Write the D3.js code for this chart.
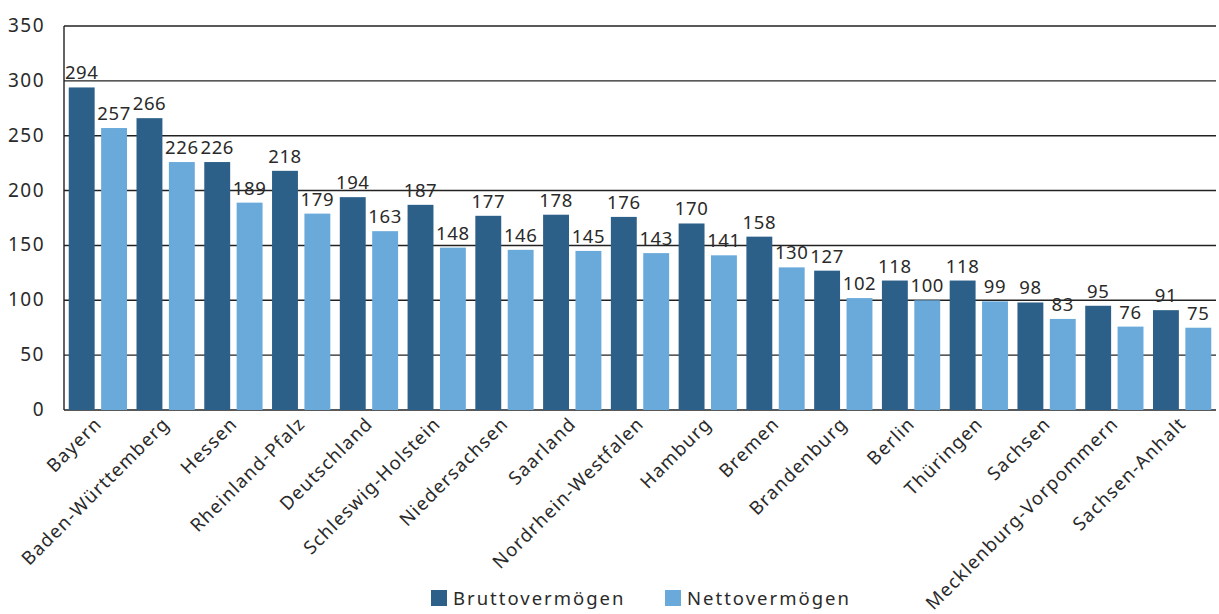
<!DOCTYPE html>
<html>
<head>
<meta charset="utf-8">
<script src="https://cdn.jsdelivr.net/npm/d3@7"></script>
<style>
  body { margin: 0; background: #fff; }
  text { font-family: "Noto Sans", "Open Sans", sans-serif; fill: #2a2a2a; }
</style>
</head>
<body>
<div id="chart"></div>
<script>
const categories = ["Bayern", "Baden-Württemberg", "Hessen", "Rheinland-Pfalz", "Deutschland",
  "Schleswig-Holstein", "Niedersachsen", "Saarland", "Nordrhein-Westfalen", "Hamburg", "Bremen",
  "Brandenburg", "Berlin", "Thüringen", "Sachsen", "Mecklenburg-Vorpommern", "Sachsen-Anhalt"];
const brutto = [294, 266, 226, 218, 194, 187, 177, 178, 176, 170, 158, 127, 118, 118, 98, 95, 91];
const netto  = [257, 226, 189, 179, 163, 148, 146, 145, 143, 141, 130, 102, 100, 99, 83, 76, 75];
const seriesNames = ["Bruttovermögen", "Nettovermögen"];
const yTicks = [0, 50, 100, 150, 200, 250, 300, 350];

const colors = ["#2d6089", "#6aaadb"];
const width = 1219, height = 614;
const margins = {l: 64, r: 3, t: 26, b: 204};

const svg = d3.select("#chart").append("svg")
  .attr("width", width).attr("height", height);

const x0 = d3.scaleBand()
  .domain(categories)
  .range([margins.l, width - margins.r])
  .paddingInner(0.14).paddingOuter(0.07);

const x1 = d3.scaleBand()
  .domain(seriesNames)
  .range([0, x0.bandwidth()])
  .paddingInner(0.2);

const y = d3.scaleLinear()
  .domain([0, 350])
  .range([height - margins.b, margins.t]);

// gridlines
svg.append("g").selectAll("line")
  .data(yTicks)
  .join("line")
  .attr("x1", margins.l).attr("x2", width - margins.r)
  .attr("y1", d => y(d)).attr("y2", d => y(d))
  .attr("stroke", "#222").attr("stroke-width", 1.4);

// y tick labels
svg.append("g").selectAll("text")
  .data(yTicks)
  .join("text")
  .attr("x", 45).attr("y", d => y(d) + 6)
  .attr("text-anchor", "end")
  .attr("font-size", 19)
  .attr("letter-spacing", 1.5)
  .text(d => d);

const rows = categories.map((c, i) => ({cat: c, vals: [brutto[i], netto[i]]}));

const groups = svg.append("g").selectAll("g")
  .data(rows)
  .join("g")
  .attr("transform", d => `translate(${x0(d.cat)},0)`);

groups.selectAll("rect")
  .data(d => d.vals.map((v, j) => ({name: seriesNames[j], v: v, j: j})))
  .join("rect")
  .attr("x", d => x1(d.name))
  .attr("y", d => y(d.v))
  .attr("width", x1.bandwidth())
  .attr("height", d => y(0) - y(d.v))
  .attr("fill", d => colors[d.j]);

groups.selectAll("text.val")
  .data(d => d.vals.map((v, j) => ({name: seriesNames[j], v: v})))
  .join("text")
  .attr("class", "val")
  .attr("x", d => x1(d.name) + x1.bandwidth() / 2)
  .attr("y", d => y(d.v) - 8)
  .attr("text-anchor", "middle")
  .attr("font-size", 18.5)
  .attr("letter-spacing", 0.6)
  .text(d => d.v);

// axis lines
svg.append("line")
  .attr("x1", margins.l).attr("x2", margins.l)
  .attr("y1", margins.t).attr("y2", y(0))
  .attr("stroke", "#222").attr("stroke-width", 1.4);

// category labels
svg.append("g").selectAll("text")
  .data(categories)
  .join("text")
  .attr("transform", d => `translate(${x0(d) + x0.bandwidth() / 2 + 5},${y(0) + 15}) rotate(-45)`)
  .attr("text-anchor", "end")
  .attr("font-size", 18.5)
  .attr("letter-spacing", 1.2)
  .text(d => d);

// legend
const legendX = [431, 665];
const legend = svg.append("g").selectAll("g")
  .data(seriesNames)
  .join("g")
  .attr("transform", (d, i) => `translate(${legendX[i]},590)`);
legend.append("rect")
  .attr("width", 16).attr("height", 16)
  .attr("fill", (d, i) => colors[i]);
legend.append("text")
  .attr("x", 22).attr("y", 15)
  .attr("font-size", 18.5)
  .attr("letter-spacing", 2)
  .text(d => d);
</script>
</body>
</html>
